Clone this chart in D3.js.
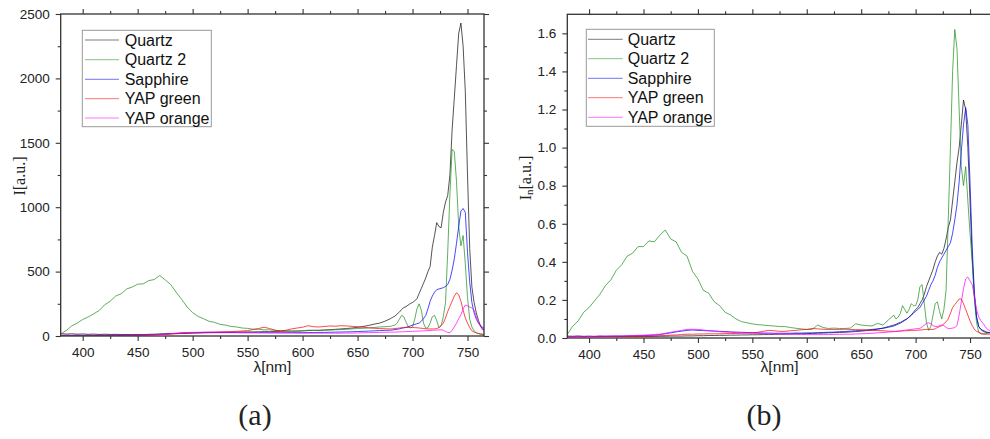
<!DOCTYPE html>
<html><head><meta charset="utf-8">
<script src="https://cdn.jsdelivr.net/npm/d3@7"></script>
<style>body{margin:0;background:#fff}svg{display:block}</style>
</head><body>
<svg id="chart" width="990" height="439"></svg>
<script>
// Wavelength grid (nm)
const wavelengths = [
  380,385,390,395,400,405,410,415,420,425,
  430,435,440,445,450,455,460,465,470,475,
  480,485,490,495,500,505,510,515,520,525,
  530,535,540,545,550,555,560,565,570,575,
  580,585,590,595,600,605,610,615,620,625,
  630,635,640,645,650,655,660,665,670,675,
  680,682,684,686,688,690,692,694,696,698,
  700,702,704,706,708,710,712,714,716,718,
  720,722,724,726,728,730,732,734,736,738,
  740,742,744,746,748,750,752,754,756,758,
  760,762,764,766,768,770];

const seriesNames = ["Quartz","Quartz 2","Sapphire","YAP green","YAP orange"];
const seriesColors = ["#111111","#1f8f1f","#0000ff","#ff0000","#ff00ff"];

// Panel (a): raw intensity I [a.u.]
const quartzA = [
  18,15,17,14,16,13,15,12,14,12,
  13,11,12,10,12,11,13,14,16,17,
  18,20,21,22,24,25,26,27,27,28,
  29,29,30,31,32,32,33,34,34,35,
  36,37,38,39,40,42,44,45,47,49,
  52,55,58,62,67,74,82,92,100,115,
  135,145,155,170,185,205,220,228,240,252,
  260,272,290,330,370,410,450,500,540,690,
  780,880,850,840,960,1040,1090,1250,1600,1850,
  2100,2350,2430,2250,1900,1250,680,380,260,180,
  120,75,50,45,40,35];
const quartz2A = [
  15,42,78,100,128,148,172,198,242,270,
  310,328,365,380,402,405,430,438,470,436,
  400,340,285,225,182,152,134,114,106,90,
  85,74,70,62,59,53,52,48,48,44,
  42,40,38,37,40,45,44,42,45,46,
  48,50,52,55,58,60,62,66,70,72,
  75,80,85,100,130,160,150,110,75,62,
  70,130,210,250,200,100,60,65,100,150,
  160,120,65,80,150,260,650,1100,1450,1430,
  1200,850,700,780,560,300,130,70,40,25,
  18,12,9,7,6,5];
const sapphireA = [
  5,6,5,6,5,6,5,6,6,7,
  7,7,8,8,8,9,10,11,13,15,
  18,20,22,23,24,24,25,25,26,26,
  26,26,26,25,25,25,25,25,25,25,
  25,25,26,26,26,27,27,28,28,29,
  30,31,32,33,35,36,38,40,42,44,
  45,47,50,52,55,60,63,68,72,78,
  85,90,95,100,115,135,160,210,270,310,
  340,360,365,370,375,385,400,440,510,600,
  720,850,970,990,960,650,420,260,180,130,
  100,80,65,55,50,45];
const yapGreenA = [
  3,4,3,4,3,4,4,5,4,5,
  5,5,6,6,7,8,9,10,12,13,
  15,17,20,22,25,26,28,29,30,31,
  33,34,36,39,42,50,58,68,58,45,
  40,45,55,62,68,80,72,70,74,78,
  76,80,78,75,72,68,64,60,58,56,
  55,56,58,60,62,64,65,66,66,67,
  66,65,64,62,60,58,56,55,55,55,
  55,58,65,80,100,140,190,230,270,310,
  335,320,270,200,140,100,65,40,30,25,
  20,17,15,12,10,9];
const yapOrangeA = [
  3,3,4,3,4,4,5,4,5,5,
  5,6,6,6,7,7,8,9,10,13,
  18,21,25,27,28,29,30,30,30,30,
  29,29,28,28,27,27,26,26,25,25,
  24,24,23,23,22,22,22,22,22,22,
  22,22,23,23,24,25,26,27,28,29,
  30,30,31,31,32,33,33,34,35,35,
  36,37,38,38,39,40,41,42,43,44,
  45,46,47,48,45,35,28,26,45,70,
  100,135,165,210,240,235,225,218,200,150,
  100,70,45,30,20,15];

// Panel (b): normalized intensity I_n [a.u.]
const quartzB = [
  .010,.009,.010,.008,.009,.008,.009,.008,.008,.008,
  .008,.007,.008,.007,.008,.008,.008,.009,.009,.010,
  .010,.010,.011,.011,.012,.012,.013,.013,.014,.014,
  .015,.015,.016,.016,.017,.017,.018,.018,.019,.020,
  .020,.021,.022,.022,.023,.024,.025,.026,.027,.028,
  .029,.030,.032,.034,.036,.039,.042,.046,.052,.060,
  .068,.072,.078,.082,.088,.095,.100,.110,.120,.135,
  .150,.160,.180,.200,.230,.270,.300,.330,.360,.400,
  .430,.450,.440,.470,.520,.580,.620,.720,.820,.920,
  1.00,1.12,1.25,1.20,1.00,.72,.42,.22,.11,.06,
  .045,.035,.030,.028,.027,.026];
const quartz2B = [
  .019,.062,.090,.135,.160,.195,.230,.275,.305,.355,
  .385,.430,.445,.480,.480,.510,.505,.540,.567,.520,
  .505,.450,.430,.350,.310,.250,.235,.190,.170,.135,
  .121,.100,.086,.080,.074,.070,.068,.065,.063,.060,
  .060,.055,.051,.048,.045,.045,.068,.055,.050,.052,
  .050,.050,.052,.075,.068,.065,.063,.077,.068,.095,
  .120,.100,.110,.130,.170,.150,.130,.150,.180,.170,
  .170,.200,.270,.280,.180,.080,.040,.060,.120,.180,
  .190,.140,.100,.150,.250,.620,1.00,1.40,1.62,1.52,
  1.20,.900,.800,.900,.720,.550,.400,.200,.080,.030,
  .022,.020,.022,.025,.030,.030];
const sapphireB = [
  .008,.008,.009,.008,.009,.008,.009,.009,.010,.010,
  .010,.011,.012,.012,.013,.014,.015,.018,.022,.027,
  .032,.036,.040,.042,.040,.039,.038,.037,.035,.034,
  .032,.031,.030,.029,.028,.027,.026,.026,.025,.025,
  .025,.025,.026,.026,.027,.027,.028,.029,.030,.031,
  .033,.034,.036,.038,.040,.042,.045,.048,.051,.056,
  .063,.068,.073,.078,.085,.092,.100,.110,.120,.130,
  .140,.150,.160,.180,.200,.220,.250,.280,.300,.330,
  .370,.400,.420,.440,.460,.480,.500,.550,.620,.700,
  .820,.980,1.12,1.21,1.12,.820,.480,.240,.110,.060,
  .045,.040,.035,.030,.028,.025];
const yapGreenB = [
  .005,.005,.006,.005,.006,.006,.006,.007,.007,.007,
  .007,.008,.008,.009,.009,.010,.011,.012,.013,.015,
  .016,.018,.020,.020,.021,.021,.022,.022,.022,.023,
  .023,.024,.025,.026,.027,.030,.035,.040,.038,.035,
  .035,.038,.040,.043,.045,.050,.048,.046,.045,.045,
  .045,.046,.045,.044,.043,.042,.040,.039,.038,.036,
  .035,.035,.036,.036,.037,.038,.038,.039,.040,.040,
  .040,.041,.042,.043,.044,.045,.045,.045,.045,.048,
  .055,.060,.065,.075,.085,.100,.130,.160,.175,.190,
  .205,.205,.180,.150,.120,.090,.065,.045,.035,.030,
  .025,.022,.020,.020,.020,.020];
const yapOrangeB = [
  .008,.008,.008,.009,.008,.009,.010,.010,.010,.011,
  .011,.012,.012,.014,.015,.016,.018,.020,.025,.030,
  .035,.040,.045,.046,.045,.042,.038,.035,.033,.031,
  .030,.028,.027,.026,.025,.024,.023,.022,.022,.021,
  .020,.020,.019,.019,.018,.018,.018,.018,.018,.019,
  .019,.020,.020,.021,.022,.023,.025,.027,.029,.031,
  .033,.034,.036,.037,.039,.041,.042,.044,.045,.047,
  .048,.050,.051,.058,.068,.077,.080,.075,.065,.060,
  .060,.065,.068,.065,.055,.050,.050,.052,.055,.065,
  .120,.190,.260,.310,.320,.300,.280,.220,.150,.110,
  .090,.077,.060,.045,.040,.035];

const xTicks = [400,450,500,550,600,650,700,750];
const xMinorTicks = [425,475,525,575,625,675,725];
const yTicksA = [0,500,1000,1500,2000,2500];
const yMinorA = [250,750,1250,1750,2250];
const yTicksB = [0,0.2,0.4,0.6,0.8,1.0,1.2,1.4,1.6];
const yMinorB = [0.1,0.3,0.5,0.7,0.9,1.1,1.3,1.5];

const svg = d3.select("#chart");
const sans = "'Liberation Sans', Arial, sans-serif";
const serif = "'Liberation Serif', 'Times New Roman', serif";

const panels = [
  {id:"a", box:[60.7,484,14,336], xDomain:[380,765], yDomain:[0,2500],
   yTicks:yTicksA, yMinor:yMinorA, fmt:d3.format("d"),
   data:[quartzA,quartz2A,sapphireA,yapGreenA,yapOrangeA],
   legend:{x0:82.3,x1:211.3,y0:30.3,y1:126.7,lx0:85,lx1:119,tx:124.7,rows:[40,59.7,79.3,98.7,118]},
   ylab:{x:19,y:176}, letter:{x:255,text:"(a)"}},
  {id:"b", box:[567.3,991.8,14.3,338], xDomain:[380,770], yDomain:[0,1.7],
   yTicks:yTicksB, yMinor:yMinorB, fmt:d3.format(".1f"),
   data:[quartzB,quartz2B,sapphireB,yapGreenB,yapOrangeB],
   legend:{x0:586.3,x1:714.3,y0:29.3,y1:126.3,lx0:588,lx1:622.7,tx:627.7,rows:[39.3,58.7,78.3,97.7,117.3]},
   ylab:{x:525,y:178}, letter:{x:764,text:"(b)"}}
];

panels.forEach(p => {
  const [x0,x1,y0,y1] = p.box;
  const x = d3.scaleLinear().domain(p.xDomain).range([x0,x1]);
  const y = d3.scaleLinear().domain(p.yDomain).range([y1,y0]);
  const g = svg.append("g");

  g.append("clipPath").attr("id","clip-"+p.id)
    .append("rect").attr("x",x0).attr("y",y0).attr("width",x1-x0).attr("height",y1-y0);

  const line = d3.line().x((d,i)=>x(wavelengths[i])).y(d=>y(d));
  const lines = g.append("g").attr("clip-path",`url(#clip-${p.id})`);
  p.data.forEach((s,k) => {
    lines.append("path").datum(s).attr("d",line)
      .attr("fill","none").attr("stroke",seriesColors[k])
      .attr("stroke-width",0.85).attr("stroke-opacity",0.85)
      .attr("stroke-linejoin","round");
  });

  function styleAxis(sel){
    sel.select(".domain").remove();
    sel.selectAll(".tick line").attr("stroke","#333").attr("stroke-width",1.1);
    sel.selectAll(".tick text").attr("font-family",sans).attr("font-size",13.5).attr("fill","#222");
  }
  g.append("g").attr("transform",`translate(0,${y1})`)
    .call(d3.axisBottom(x).tickValues(xTicks).tickSize(5).tickPadding(6).tickFormat(d3.format("d"))).call(styleAxis);
  g.append("g").attr("transform",`translate(0,${y1})`)
    .call(d3.axisBottom(x).tickValues(xMinorTicks).tickSize(3).tickFormat("")).call(styleAxis);
  g.append("g").attr("transform",`translate(0,${y0})`)
    .call(d3.axisTop(x).tickValues(xTicks).tickSize(5).tickFormat("")).call(styleAxis);
  g.append("g").attr("transform",`translate(0,${y0})`)
    .call(d3.axisTop(x).tickValues(xMinorTicks).tickSize(3).tickFormat("")).call(styleAxis);
  g.append("g").attr("transform",`translate(${x0},0)`)
    .call(d3.axisLeft(y).tickValues(p.yTicks).tickSize(5).tickPadding(6).tickFormat(p.fmt)).call(styleAxis);
  g.append("g").attr("transform",`translate(${x0},0)`)
    .call(d3.axisLeft(y).tickValues(p.yMinor).tickSize(3).tickFormat("")).call(styleAxis);
  g.append("g").attr("transform",`translate(${x1},0)`)
    .call(d3.axisRight(y).tickValues(p.yTicks).tickSize(5).tickFormat("")).call(styleAxis);
  g.append("g").attr("transform",`translate(${x1},0)`)
    .call(d3.axisRight(y).tickValues(p.yMinor).tickSize(3).tickFormat("")).call(styleAxis);

  g.append("rect").attr("x",x0).attr("y",y0).attr("width",x1-x0).attr("height",y1-y0)
    .attr("fill","none").attr("stroke","#333").attr("stroke-width",1.3);

  g.append("text").attr("x",(x0+x1)/2).attr("y",372)
    .attr("text-anchor","middle").attr("font-family",sans).attr("font-size",15.5).attr("fill","#222")
    .text("λ[nm]");

  const yl = g.append("text").attr("transform",`translate(${p.ylab.x},${p.ylab.y}) rotate(-90)`)
    .attr("text-anchor","middle").attr("dominant-baseline","central")
    .attr("font-family",serif).attr("font-size",16).attr("fill","#222");
  if (p.id === "a") {
    yl.text("I[a.u.]");
  } else {
    yl.append("tspan").text("I");
    yl.append("tspan").attr("font-size",11).attr("dy",4).text("n");
    yl.append("tspan").attr("dy",-4).text("[a.u.]");
  }

  const L = p.legend;
  const lg = g.append("g");
  lg.append("rect").attr("x",L.x0).attr("y",L.y0).attr("width",L.x1-L.x0).attr("height",L.y1-L.y0)
    .attr("fill","#fff").attr("stroke","#999").attr("stroke-width",1);
  seriesNames.forEach((name,k) => {
    lg.append("line").attr("x1",L.lx0).attr("x2",L.lx1).attr("y1",L.rows[k]).attr("y2",L.rows[k])
      .attr("stroke",seriesColors[k]).attr("stroke-width",1).attr("stroke-opacity",0.55);
    lg.append("text").attr("x",L.tx).attr("y",L.rows[k]).attr("dominant-baseline","central")
      .attr("font-family",sans).attr("font-size",16).attr("fill","#111").text(name);
  });

  g.append("text").attr("x",p.letter.x).attr("y",425).attr("text-anchor","middle")
    .attr("font-family",serif).attr("font-size",30).attr("fill","#222").text(p.letter.text);
});
</script>
</body></html>
